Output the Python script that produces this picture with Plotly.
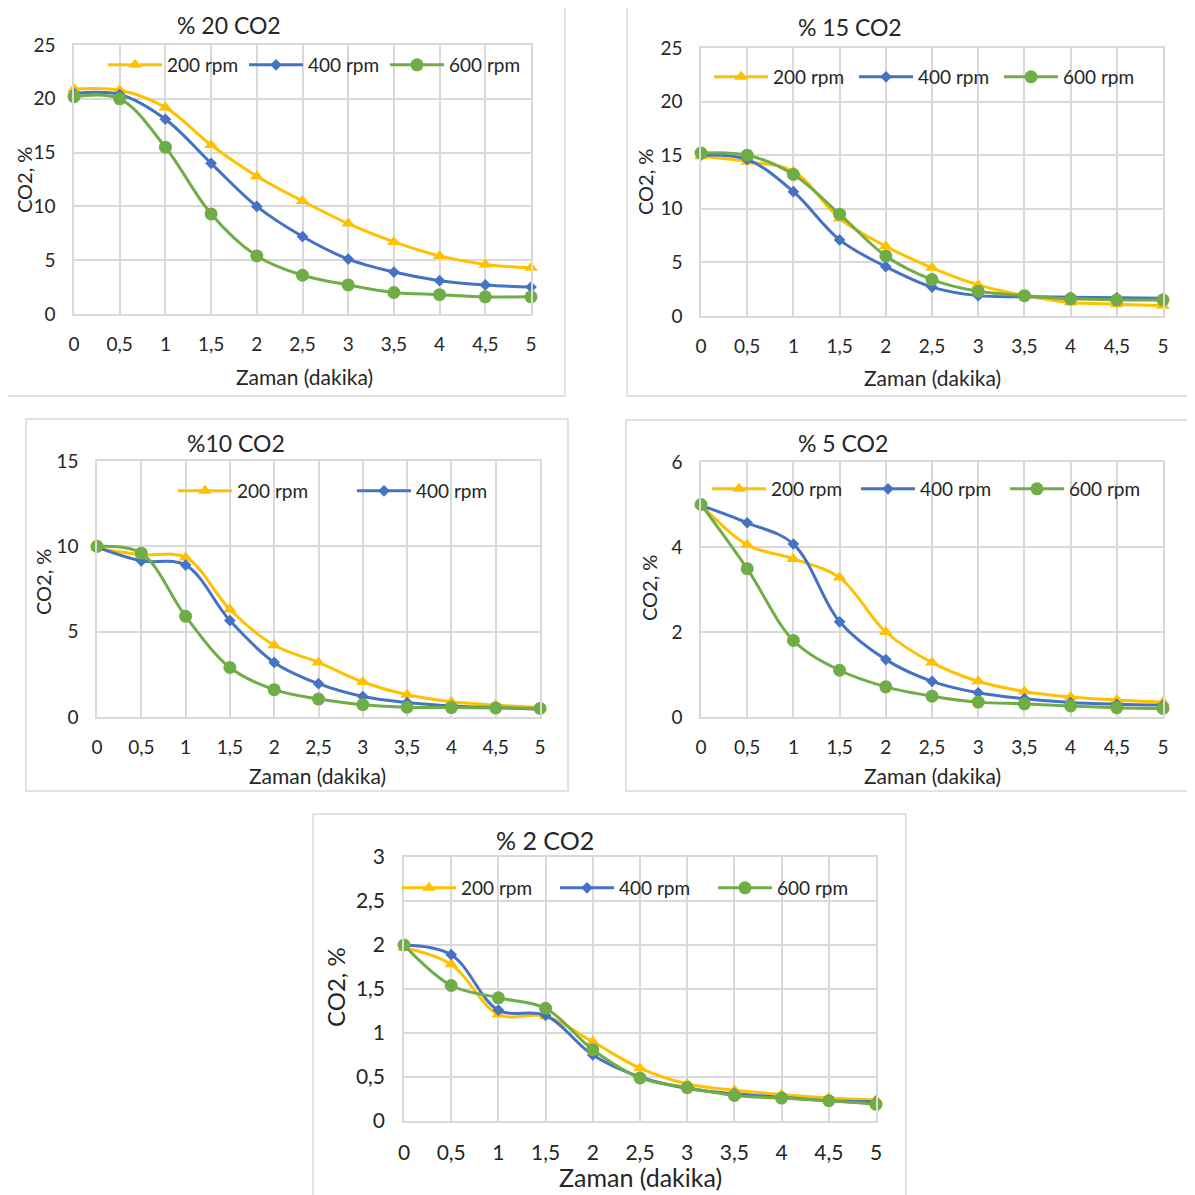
import plotly.graph_objects as go

# The page body has an 8 px margin, so the figure is drawn 8 px in from the
# window's top-left corner; geometry below is given in window pixels.
OFF = 8
W = H = 1195 - OFF

# ---------------- data ----------------
x_vals = [0, 0.5, 1, 1.5, 2, 2.5, 3, 3.5, 4, 4.5, 5]
x_labels = ["0", "0,5", "1", "1,5", "2", "2,5", "3", "3,5", "4", "4,5", "5"]
series_names = ["200 rpm", "400 rpm", "600 rpm"]
panel_titles = ["% 20 CO2", "% 15 CO2", "%10 CO2", "% 5 CO2", "% 2 CO2"]
x_title = "Zaman (dakika)"
y_title = "CO2, %"

co2_20_200 = [20.9, 20.8, 19.2, 15.7, 12.8, 10.5, 8.4, 6.7, 5.4, 4.6, 4.3]
co2_20_400 = [20.5, 20.4, 18.1, 14.0, 10.0, 7.2, 5.1, 3.9, 3.1, 2.7, 2.5]
co2_20_600 = [20.2, 20.0, 15.5, 9.3, 5.4, 3.6, 2.7, 2.0, 1.8, 1.6, 1.6]

co2_15_200 = [14.9, 14.4, 13.5, 9.1, 6.5, 4.5, 2.9, 1.9, 1.25, 1.1, 0.95]
co2_15_400 = [15.0, 14.6, 11.6, 7.1, 4.6, 2.7, 1.9, 1.8, 1.75, 1.7, 1.65]
co2_15_600 = [15.2, 15.0, 13.2, 9.5, 5.6, 3.4, 2.3, 1.9, 1.6, 1.5, 1.5]

co2_10_200 = [9.9, 9.5, 9.35, 6.3, 4.2, 3.2, 2.05, 1.3, 0.9, 0.7, 0.55]
co2_10_400 = [9.95, 9.15, 8.9, 5.65, 3.2, 1.95, 1.2, 0.85, 0.65, 0.55, 0.45]
co2_10_600 = [10.0, 9.6, 5.9, 2.9, 1.6, 1.05, 0.72, 0.57, 0.55, 0.53, 0.5]

co2_5_200 = [5.0, 4.05, 3.72, 3.28, 2.0, 1.28, 0.84, 0.6, 0.47, 0.4, 0.35]
co2_5_400 = [4.98, 4.57, 4.07, 2.24, 1.35, 0.84, 0.57, 0.43, 0.34, 0.3, 0.28]
co2_5_600 = [5.0, 3.49, 1.8, 1.1, 0.71, 0.49, 0.35, 0.31, 0.26, 0.22, 0.2]

co2_2_200 = [1.97, 1.78, 1.21, 1.19, 0.9, 0.6, 0.42, 0.35, 0.3, 0.26, 0.24]
co2_2_400 = [2.0, 1.89, 1.26, 1.2, 0.75, 0.5, 0.37, 0.31, 0.27, 0.23, 0.22]
co2_2_600 = [2.0, 1.54, 1.4, 1.28, 0.81, 0.49, 0.38, 0.29, 0.26, 0.23, 0.19]

y_max = [25, 25, 15, 6, 3]
y_step = [5, 5, 5, 2, 0.5]

# ---------------- style / layout ----------------
COLORS = ["#FFC000", "#4472C4", "#70AD47"]
SYMBOLS = ["triangle-up", "diamond", "circle"]
SIZES = [12, 9, 13]
GRID = "#D9D9D9"
TXT = "#262626"
FONT = "Lato"

panel_data = [
    [co2_20_200, co2_20_400, co2_20_600],
    [co2_15_200, co2_15_400, co2_15_600],
    [co2_10_200, co2_10_400, co2_10_600],
    [co2_5_200, co2_5_400, co2_5_600],
    [co2_2_200, co2_2_400, co2_2_600],
]
legend_show = [
    [True, True, True],
    [True, True, True],
    [True, True, False],
    [True, True, True],
    [True, True, True],
]

# window-pixel geometry: plot area (left, top, right, bottom), box, title, legend (x, y, pitch)
geo = [
    dict(plot=(74, 45, 531, 314), box=(7, 3, 565, 396), title=(229, 25), leg=(103, 65, 141),
         ylab=(24, 180), xlab=(305, 376), tick=19, tfs=23, axfs=21, yfs=20),
    dict(plot=(701, 48, 1163, 316), box=(627, 5, 1192, 396), title=(850, 27), leg=(709, 77, 145),
         ylab=(645, 182), xlab=(932, 377), tick=19, tfs=23, axfs=21, yfs=20),
    dict(plot=(97, 461, 540, 717), box=(26, 419, 568, 791), title=(236, 443), leg=(173, 491, 179),
         ylab=(43, 582), xlab=(318, 775), tick=19, tfs=23, axfs=21, yfs=20),
    dict(plot=(701, 462, 1163, 717), box=(626, 420, 1193, 791), title=(843, 443), leg=(707, 489, 149),
         ylab=(649, 588), xlab=(932, 775), tick=19, tfs=23, axfs=21, yfs=20),
    dict(plot=(404, 857, 876, 1121), box=(313, 814, 906, 1205), title=(545, 840), leg=(397, 888, 158),
         ylab=(335, 987), xlab=(640, 1177), tick=21, tfs=25, axfs=25, yfs=24),
]
ITEMW = 54


def fx(p):
    return (p - OFF) / W


def fy(p):
    return 1 - (p - OFF) / H


fig = go.Figure()
layout = dict(
    width=W, height=H, margin=dict(l=0, r=0, t=0, b=0, autoexpand=False),
    paper_bgcolor="white", plot_bgcolor="rgba(0,0,0,0)",
    font=dict(family=FONT, color=TXT), separators=", ",
    annotations=[], shapes=[], showlegend=True,
)

for i, g in enumerate(geo):
    n = "" if i == 0 else str(i + 1)
    xa, ya, lg = "x" + n, "y" + n, "legend" + n
    for j in range(3):
        fig.add_trace(go.Scatter(
            x=x_vals, y=panel_data[i][j], name=series_names[j], mode="lines+markers",
            line=dict(color=COLORS[j], width=3, shape="spline", smoothing=1),
            marker=dict(symbol=SYMBOLS[j], size=SIZES[j], color=COLORS[j], line=dict(width=0)),
            xaxis=xa, yaxis=ya, legend=lg, showlegend=legend_show[i][j], cliponaxis=False,
        ))
    l, t, r, b = g["plot"]
    layout["xaxis" + n] = dict(
        domain=[fx(l), fx(r)], range=[0, 5], tickvals=x_vals, ticktext=x_labels,
        showgrid=True, gridcolor=GRID, gridwidth=1.5, showline=True, linecolor=GRID,
        linewidth=1.5, mirror=True, zeroline=False, ticks="",
        tickfont=dict(size=g["tick"], color=TXT, family=FONT), ticklabelstandoff=12,
        anchor=ya, fixedrange=True,
    )
    layout["yaxis" + n] = dict(
        domain=[fy(b), fy(t)], range=[0, y_max[i]], dtick=y_step[i], tick0=0,
        showgrid=True, gridcolor=GRID, gridwidth=1.5, showline=True, linecolor=GRID,
        linewidth=1.5, mirror=True, zeroline=False, ticks="",
        tickfont=dict(size=g["tick"], color=TXT, family=FONT), ticklabelstandoff=13,
        anchor=xa, fixedrange=True,
    )
    lx, ly, pitch = g["leg"]
    layout[lg] = dict(
        x=fx(lx), y=fy(ly), xanchor="left", yanchor="middle", orientation="h",
        bgcolor="rgba(0,0,0,0)", borderwidth=0, font=dict(size=19, color=TXT, family=FONT),
        itemwidth=ITEMW, entrywidth=pitch - ITEMW - 15, entrywidthmode="pixels",
        itemclick=False, itemdoubleclick=False,
    )
    bx0, by0, bx1, by1 = g["box"]
    layout["shapes"].append(dict(
        type="rect", xref="paper", yref="paper", x0=fx(bx0), x1=fx(bx1),
        y0=fy(by1), y1=fy(by0), line=dict(color=GRID, width=1.5), layer="below",
    ))
    tx, ty = g["title"]
    layout["annotations"].append(dict(
        text=panel_titles[i], x=fx(tx), y=fy(ty), xref="paper", yref="paper",
        showarrow=False, xanchor="center", yanchor="middle",
        font=dict(size=g["tfs"], color=TXT, family=FONT),
    ))
    yx, yy = g["ylab"]
    layout["annotations"].append(dict(
        text=y_title, x=fx(yx), y=fy(yy), xref="paper", yref="paper",
        showarrow=False, xanchor="center", yanchor="middle", textangle=-90,
        font=dict(size=g["yfs"], color=TXT, family=FONT),
    ))
    xx, xy = g["xlab"]
    layout["annotations"].append(dict(
        text=x_title, x=fx(xx), y=fy(xy), xref="paper", yref="paper",
        showarrow=False, xanchor="center", yanchor="middle",
        font=dict(size=g["axfs"], color=TXT, family=FONT),
    ))

fig.update_layout(**layout)
fig.write_html("out.html")
